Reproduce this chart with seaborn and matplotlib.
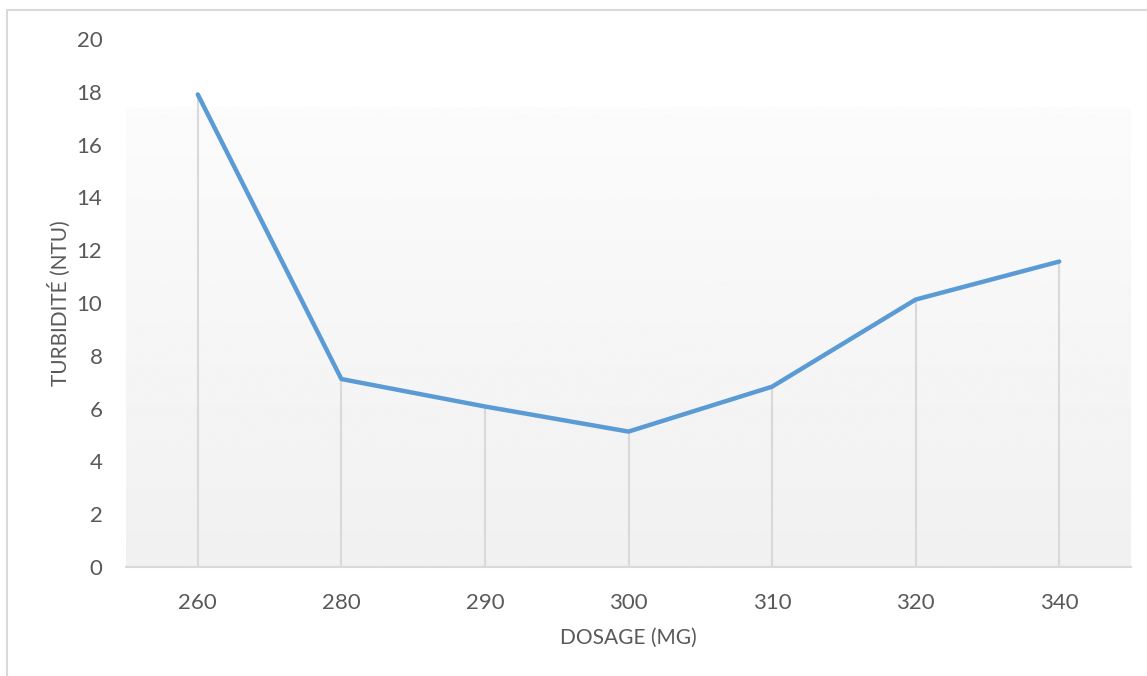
import numpy as np
import pandas as pd
import matplotlib
matplotlib.use("Agg")
import matplotlib.pyplot as plt
import seaborn as sns
from matplotlib.patches import Rectangle

# Coagulant dosage (mg) and resulting turbidity (NTU)
dosages = ["260", "280", "290", "300", "310", "320", "340"]
turbidity = [17.9, 7.12, 6.08, 5.13, 6.83, 10.13, 11.57]
y_ticks = [0, 2, 4, 6, 8, 10, 12, 14, 16, 18, 20]

sns.set_theme(style="white")
plt.rcParams["font.family"] = ["Lato", "DejaVu Sans"]

W, H = 1147, 676
fig = plt.figure(figsize=(W / 100, H / 100), dpi=100)
fig.patch.set_facecolor("white")

# light chart border, open towards the right and bottom edges
fig.patches.append(Rectangle((7 / W, -0.05), 1.2, (H - 10) / H + 0.05,
                             transform=fig.transFigure, fill=False,
                             edgecolor="#d9d9d9", linewidth=1.5))

left, right = 126 / W, 1131 / W
bottom, top = (H - 567) / H, (H - 39) / H
ax = fig.add_axes([left, bottom, right - left, top - bottom])

df = pd.DataFrame({"dosage": dosages, "turbidity": turbidity})
n = len(dosages)

# plot-area gradient: white at the top, soft grey towards the baseline
ys = np.linspace(20, 0, 400)
fade_start = 17.4
shade = np.where(ys > fade_start, 1.0,
                 0.942 + (0.985 - 0.942) * (ys / fade_start))
grad = np.repeat(shade[:, None], 2, axis=1)
ax.imshow(grad, cmap="gray", vmin=0, vmax=1, aspect="auto",
          extent=(-0.5, n - 0.5, 0, 20), zorder=0, interpolation="bilinear")

# drop lines from each point down to the category axis
ax.vlines(range(n), 0, df["turbidity"], colors="#d9d9d9", linewidth=1.5, zorder=1)

sns.lineplot(data=df, x="dosage", y="turbidity", sort=False, ax=ax,
             color="#5b9bd5", linewidth=3.2, zorder=3,
             solid_capstyle="round", solid_joinstyle="round")

ax.set_xlim(-0.5, n - 0.5)
ax.set_ylim(0, 20)
ax.set_yticks(y_ticks)
ax.set_xticks(range(n))
ax.set_xticklabels(dosages)

for s in ["top", "right", "left"]:
    ax.spines[s].set_visible(False)
ax.spines["bottom"].set_color("#d9d9d9")
ax.spines["bottom"].set_linewidth(1.5)
ax.spines["bottom"].set_zorder(2)

ax.tick_params(axis="both", length=0, labelsize=16, labelcolor="#595959")
ax.tick_params(axis="y", pad=17)
ax.tick_params(axis="x", pad=19)

ax.set_xlabel("DOSAGE (MG)", fontsize=15, color="#595959")
ax.set_ylabel("TURBIDITÉ (NTU)", fontsize=15, color="#595959")
ax.xaxis.set_label_coords(0.5, -(628 - 567) / 528)
ax.yaxis.set_label_coords(-(126 - 71) / 1005, 0.5)
ax.grid(False)

fig.savefig("out.png", dpi=100)
